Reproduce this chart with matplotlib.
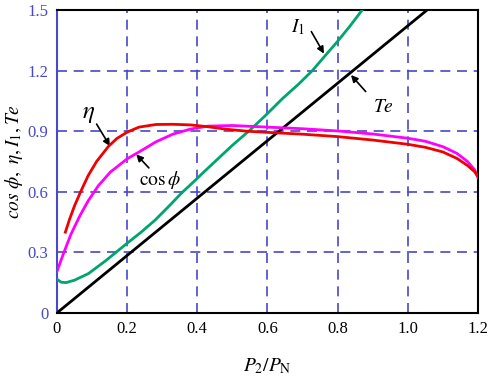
import matplotlib
matplotlib.use("Agg")
from matplotlib import pyplot as plt

plt.rcParams["font.family"] = ["Liberation Serif", "DejaVu Serif"]
plt.rcParams["mathtext.fontset"] = "stix"

# values
eta_x = [0.024, 0.036, 0.05, 0.0675, 0.089, 0.113, 0.147, 0.171, 0.2, 0.234, 0.282, 0.33, 0.38,
         0.43, 0.48, 0.54, 0.6, 0.7, 0.8, 0.9, 1.0, 1.05, 1.1, 1.14, 1.17, 1.19, 1.2]
eta_y = [0.40, 0.464, 0.53, 0.60, 0.68, 0.75, 0.825, 0.864, 0.895, 0.92, 0.933, 0.934, 0.931,
         0.922, 0.91, 0.90, 0.894, 0.885, 0.873, 0.856, 0.835, 0.82, 0.797, 0.765, 0.73, 0.70, 0.675]

cos_x = [0, 0.012, 0.021, 0.04, 0.065, 0.089, 0.118, 0.152, 0.2, 0.234, 0.282, 0.33, 0.38, 0.43,
         0.5, 0.6, 0.7, 0.8, 0.9, 1.0, 1.05, 1.1, 1.14, 1.17, 1.19, 1.2]
cos_y = [0.205, 0.263, 0.305, 0.39, 0.48, 0.555, 0.63, 0.697, 0.763, 0.797, 0.847, 0.885, 0.91,
         0.925, 0.928, 0.92, 0.912, 0.901, 0.886, 0.865, 0.85, 0.823, 0.79, 0.75, 0.71, 0.67]

i1_x = [0, 0.012, 0.026, 0.05, 0.09, 0.14, 0.2, 0.24, 0.28, 0.32, 0.356, 0.39, 0.42, 0.46, 0.5,
        0.55, 0.594, 0.642, 0.69, 0.728, 0.77, 0.8, 0.835, 0.87]
i1_y = [0.167, 0.152, 0.15, 0.162, 0.195, 0.26, 0.345, 0.40, 0.46, 0.53, 0.595, 0.65, 0.70, 0.765,
        0.83, 0.905, 0.977, 1.06, 1.135, 1.2, 1.285, 1.345, 1.42, 1.5]

te_x = [0, 1.055]
te_y = [0, 1.5]

xticks = [0, 0.2, 0.4, 0.6, 0.8, 1.0, 1.2]
xlabels = ["0", "0.2", "0.4", "0.6", "0.8", "1.0", "1.2"]
yticks = [0, 0.3, 0.6, 0.9, 1.2, 1.5]
ylabels = ["0", "0.3", "0.6", "0.9", "1.2", "1.5"]

fig = plt.figure(figsize=(4.91, 3.77), dpi=100)
ax = fig.add_axes([0.116, 0.170, 0.8575, 0.8035])

blue = "#4848c8"
ax.plot(te_x, te_y, color="black", lw=2, zorder=3)
ax.plot(i1_x, i1_y, color="#00a46e", lw=2, zorder=3)
ax.plot(cos_x, cos_y, color="#ff00ff", lw=2, zorder=3)
ax.plot(eta_x, eta_y, color="#f00000", lw=2, zorder=4)

ax.set_xlim(0, 1.2)
ax.set_ylim(0, 1.5)
ax.set_xticks(xticks, xlabels)
ax.set_yticks(yticks, ylabels)
ax.tick_params(length=0, labelsize=12, pad=6)
ax.tick_params(axis="y", labelcolor=blue)
ax.grid(True, color=blue, linestyle=(0, (6, 4)), lw=1.2)

for s in ["top", "right", "bottom"]:
    ax.spines[s].set_linewidth(1.5)
ax.spines["left"].set_color(blue)
ax.spines["left"].set_linewidth(1.5)

ax.set_ylabel(r"$cos\ \phi,\ \eta, I_1,Te$", fontsize=14, labelpad=2)
ax.set_xlabel(r"$P_2/P_\mathrm{N}$", fontsize=14, labelpad=14)

# curve labels and pointer arrows
arrow = dict(arrowstyle="-|>", color="black", lw=1.2, mutation_scale=10, shrinkA=0, shrinkB=0)
ax.text(0.091, 0.985, r"$\eta$", fontsize=18, ha="center", va="center")
ax.annotate("", xy=(0.151, 0.826), xytext=(0.113, 0.935), arrowprops=arrow)
ax.text(0.294, 0.658, r"$\mathrm{cos}\,\phi$", fontsize=14, ha="center", va="center")
ax.annotate("", xy=(0.226, 0.785), xytext=(0.262, 0.718), arrowprops=arrow)
ax.text(0.686, 1.415, r"$I_1$", fontsize=14, ha="center", va="center")
ax.annotate("", xy=(0.761, 1.284), xytext=(0.725, 1.393), arrowprops=arrow)
ax.text(0.931, 1.015, r"$Te$", fontsize=14, ha="center", va="center")
ax.annotate("", xy=(0.838, 1.178), xytext=(0.88, 1.096), arrowprops=arrow)

fig.savefig("out.png", dpi=100)
